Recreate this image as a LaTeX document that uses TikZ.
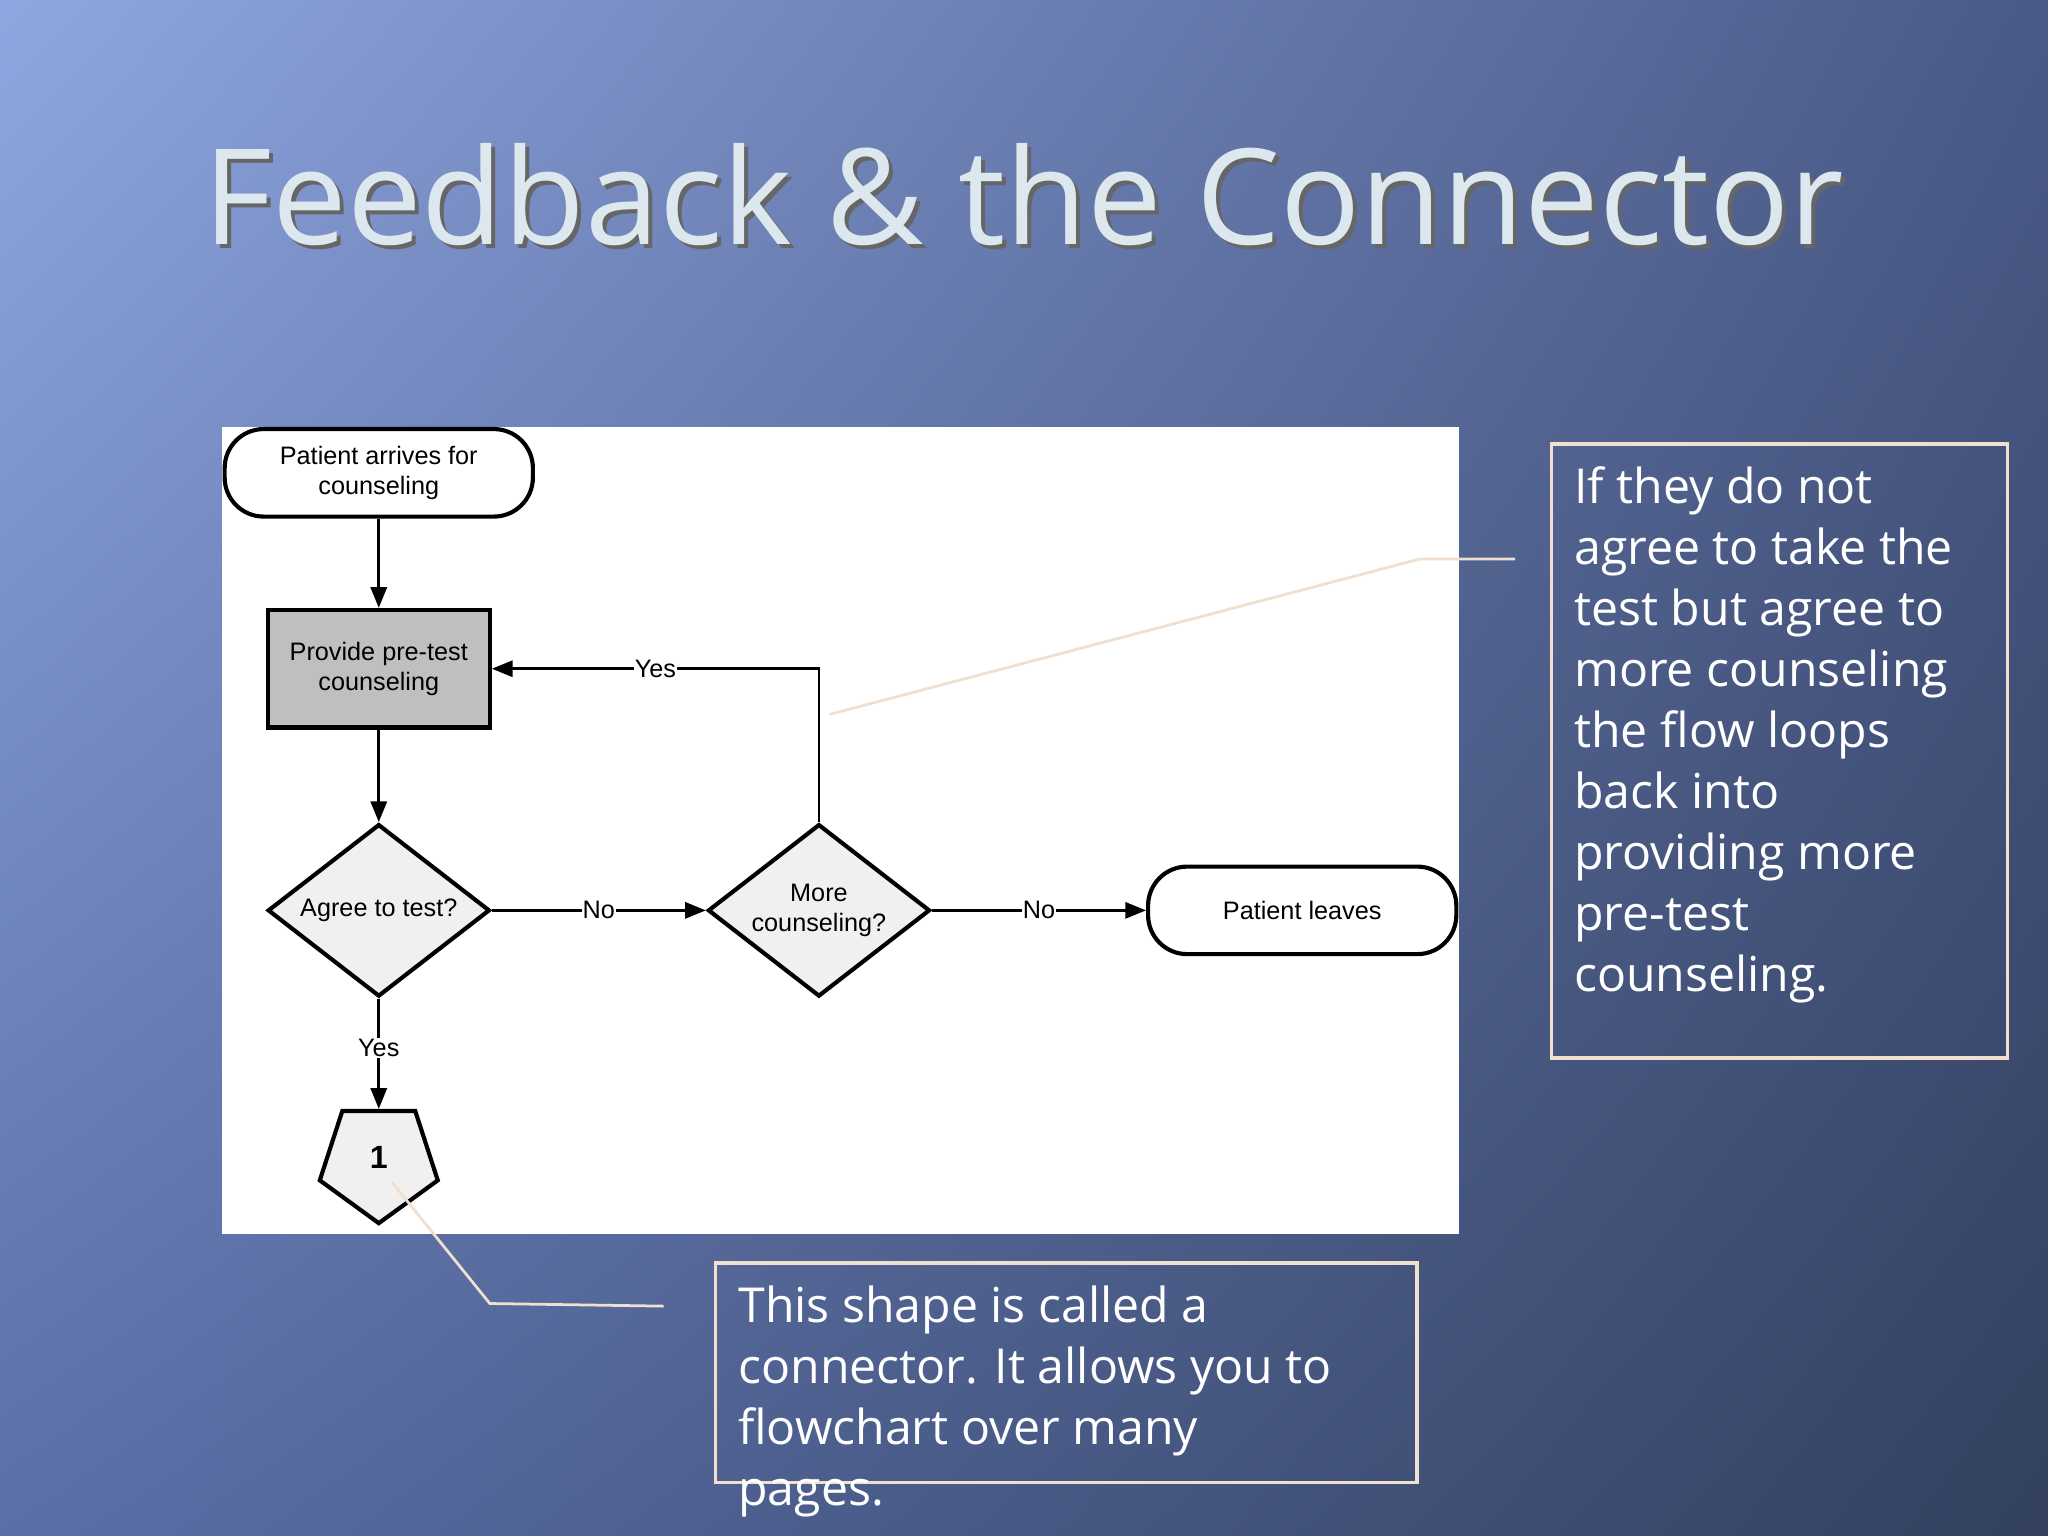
\documentclass[tikz,border=0pt]{standalone}
\usepackage{fontspec}
\setmainfont{Open Sans}
\newfontfamily\chartfont{Liberation Sans}
\usetikzlibrary{shapes.geometric,arrows.meta,shadings}
\definecolor{beige}{HTML}{F0E0D0}
\definecolor{titlec}{HTML}{DDE8EE}
\definecolor{bgul}{HTML}{8FA6E0}
\definecolor{bgur}{HTML}{4A5A88}
\definecolor{bgll}{HTML}{5A6FA8}
\definecolor{bglr}{HTML}{33415F}
\begin{document}
\begin{tikzpicture}[x=0.02cm,y=-0.02cm,
  chart/.style={font=\chartfont\fontsize{11}{13}\selectfont,align=center},
  term/.style={chart,draw,line width=1.8pt,rounded corners=17pt,fill=white,minimum width=236*0.02cm,minimum height=67*0.02cm,inner sep=0},
  proc/.style={chart,draw,line width=1.8pt,fill=black!25,minimum width=170*0.02cm,minimum height=90*0.02cm,inner sep=0},
  dec/.style={chart,draw,line width=1.8pt,fill=black!6,diamond,aspect=1.29,minimum width=170*0.02cm,minimum height=132*0.02cm,inner sep=0},
  arr/.style={line width=1.2pt,-{Triangle[length=9pt,width=7pt]}},
  lab/.style={chart,fill=white,inner sep=0.5pt},
  callout/.style={draw=beige,line width=1.2pt},
  tbox/.style={draw=beige,line width=1.5pt},
  body/.style={text=white,font=\fontsize{21}{26.6}\selectfont,align=left,anchor=north west,inner sep=0}]
\useasboundingbox (0,0) rectangle (1568,1176);
\shade[upper left=bgul,upper right=bgur,lower left=bgll,lower right=bglr] (0,0) rectangle (1568,1176);
% title
\node[text=black!60,font=\fontsize{58}{60}\selectfont] at (787,152) {Feedback \& the Connector};
\node[text=titlec,font=\fontsize{58}{60}\selectfont] (title) at (784,149) {Feedback \& the Connector};
% panel
\fill[white] (170,327) rectangle (1117,945);
\node[term] (start) at (290,362) {Patient arrives for\\counseling};
\node[proc] (pre) at (290,512) {Provide pre-test\\counseling};
\node[dec] (agree) at (290,697) {Agree to test?};
\node[dec] (more) at (627,697) {More\\counseling?};
\node[term] (leave) at (997,697) {Patient leaves};
\node[chart,draw,line width=1.8pt,fill=black!6,regular polygon,regular polygon sides=5,shape border rotate=180,minimum size=1.9cm,inner sep=0] (conn) at (290,889) {};
\node[chart,font=\chartfont\bfseries\fontsize{14}{16}\selectfont] at (290,886) {1};
\draw[arr] (start) -- (pre);
\draw[arr] (pre) -- (agree);
\draw[arr] (agree) -- node[lab]{No} (more);
\draw[arr] (more) -- node[lab]{No} (leave);
\draw[arr] (more.north) |- node[lab,pos=0.75]{Yes} (pre.east);
\draw[arr] (agree.south) -- node[lab,pos=0.45]{Yes} (conn.north);
% callouts
\coordinate (c1a) at (635,547);
\coordinate (c1b) at (1087,428);
\coordinate (c1c) at (1160,428);
\draw[callout] (c1a) -- (c1b) -- (c1c);
\coordinate (c2a) at (300,905);
\coordinate (c2b) at (375,998);
\coordinate (c2c) at (508,1000);
\draw[callout] (c2a) -- (c2b) -- (c2c);
% text boxes
\draw[tbox] (1188,340) rectangle (1537,810);
\node[body] (rt) at (1205,357) {If they do not\\agree to take the\\test but agree to\\more counseling\\the flow loops\\back into\\providing more\\pre-test\\counseling.};
\draw[tbox] (548,967) rectangle (1085,1135);
\node[body] (bt) at (565,984) {This shape is called a\\connector. It allows you to\\flowchart over many\\pages.};
\end{tikzpicture}
\end{document}
